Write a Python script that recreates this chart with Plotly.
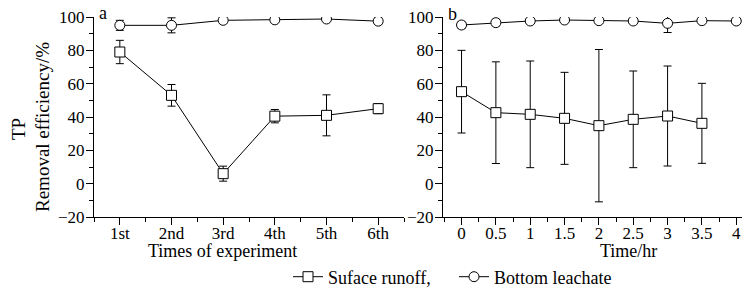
import plotly.graph_objects as go

# ---- data ----
left_cats = ["1st", "2nd", "3rd", "4th", "5th", "6th"]
left_pos = [1, 2, 3, 4, 5, 6]
left_runoff = [79, 53, 6, 40.5, 41, 45]
left_runoff_err = [7, 6.5, 4.5, 4, 12.3, 3]
left_leach = [95, 95, 98, 98.3, 98.8, 97.5]
left_leach_err = [3, 4.5, 1.5, 1.5, 1, 2]

right_runoff_t = [0, 0.5, 1, 1.5, 2, 2.5, 3, 3.5]
right_runoff = [55.2, 42.6, 41.6, 39.2, 34.8, 38.6, 40.6, 36.2]
right_runoff_err = [24.8, 30.5, 32, 27.6, 45.7, 29, 30, 24]
right_leach_t = [0, 0.5, 1, 1.5, 2, 2.5, 3, 3.5, 4]
right_leach = [95.2, 96.6, 97.6, 98.2, 97.8, 97.6, 96.2, 97.8, 97.6]
right_leach_err = [2, 2, 1.5, 1, 1.5, 1.5, 5.5, 1, 1]

right_ticks = [0, 0.5, 1, 1.5, 2, 2.5, 3, 3.5, 4]
right_ticktext = ["0", "0.5", "1", "1.5", "2", "2.5", "3", "3.5", "4"]
y_ticks = [-20, 0, 20, 40, 60, 80, 100]

FONT = "Liberation Serif, Tinos, Times New Roman, DejaVu Serif, serif"
W, H = 750, 289
OFF = 8  # page body margin offset


def px(x):
    return (x - OFF) / W


def py(y):
    return (H - (y - OFF)) / H


def err(vals):
    return dict(type="data", array=vals, visible=True, color="black",
                thickness=1, width=4)


def trace(x, y, e, symbol, name, xa, ya, show):
    return go.Scatter(
        x=x, y=y, mode="lines+markers", name=name, showlegend=show,
        line=dict(color="black", width=1),
        marker=dict(symbol=symbol, size=10, color="white",
                    line=dict(color="black", width=1)),
        error_y=err(e), xaxis=xa, yaxis=ya)


fig = go.Figure()
fig.add_trace(trace(left_pos, left_runoff, left_runoff_err, "square",
                    "Suface runoff,", "x", "y", True))
fig.add_trace(trace(left_pos, left_leach, left_leach_err, "circle",
                    "Bottom leachate", "x", "y", True))
fig.add_trace(trace(right_runoff_t, right_runoff, right_runoff_err, "square",
                    "Suface runoff,", "x2", "y2", False))
fig.add_trace(trace(right_leach_t, right_leach, right_leach_err, "circle",
                    "Bottom leachate", "x2", "y2", False))

ydom = [py(217), py(17)]
axis_common = dict(showline=True, linecolor="black", linewidth=1,
                   ticks="outside", ticklen=7, tickcolor="black", tickwidth=1,
                   showgrid=False, zeroline=False, automargin=False,
                   ticklabeloverflow="allow",
                   tickfont=dict(family=FONT, size=17, color="black"))
minor_common = dict(ticks="outside", ticklen=4, tickcolor="black",
                    tickwidth=1, showgrid=False)

fig.update_layout(
    width=W, height=H,
    margin=dict(l=0, r=0, t=0, b=0, autoexpand=False),
    paper_bgcolor="white", plot_bgcolor="white",
    font=dict(family=FONT, color="black"),
    xaxis=dict(domain=[px(94), px(404)], range=[0.5, 6.5],
               tickvals=left_pos, ticktext=left_cats, anchor="y",
               ticklabelstandoff=-6,
               minor=dict(dtick=0.5, tick0=0.5, **minor_common),
               **axis_common),
    yaxis=dict(domain=ydom, range=[-20, 100], tickvals=y_ticks, anchor="x",
               ticklabelstandoff=-2,
               minor=dict(dtick=10, tick0=0, **minor_common),
               **axis_common),
    xaxis2=dict(domain=[px(443), px(750)], range=[-0.27, 4.2],
                tickvals=right_ticks, ticktext=right_ticktext, anchor="y2",
                ticklabelstandoff=-6,
                minor=dict(dtick=0.25, tick0=0, **minor_common),
                **axis_common),
    yaxis2=dict(domain=ydom, range=[-20, 100], tickvals=y_ticks, anchor="x2",
                ticklabelstandoff=-2,
                minor=dict(dtick=10, tick0=0, **minor_common),
                **axis_common),
    legend=dict(orientation="h", x=px(288), xanchor="left",
                y=py(277), yanchor="middle",
                font=dict(family=FONT, size=18, color="black"),
                bgcolor="rgba(0,0,0,0)", itemwidth=30,
                entrywidth=121, entrywidthmode="pixels",
                tracegroupgap=0),
    showlegend=True,
)

ann_font = dict(family=FONT, size=18, color="black")
annotations = [
    dict(text="TP", x=px(18), y=py(129), textangle=-90, size=19),
    dict(text="Removal efficiency/%", x=px(42), y=py(127), textangle=-90,
         size=19),
    dict(text="Times of experiment", x=px(222), y=py(251)),
    dict(text="Time/hr", x=px(628), y=py(251)),
    dict(text="a", x=px(103), y=py(13)),
    dict(text="b", x=px(452), y=py(14)),
]
for a in annotations:
    size = a.pop("size", 18)
    fig.add_annotation(xref="paper", yref="paper", showarrow=False,
                       xanchor="center", yanchor="middle",
                       font=dict(family=FONT, size=size, color="black"), **a)

fig.write_html("out.html")
